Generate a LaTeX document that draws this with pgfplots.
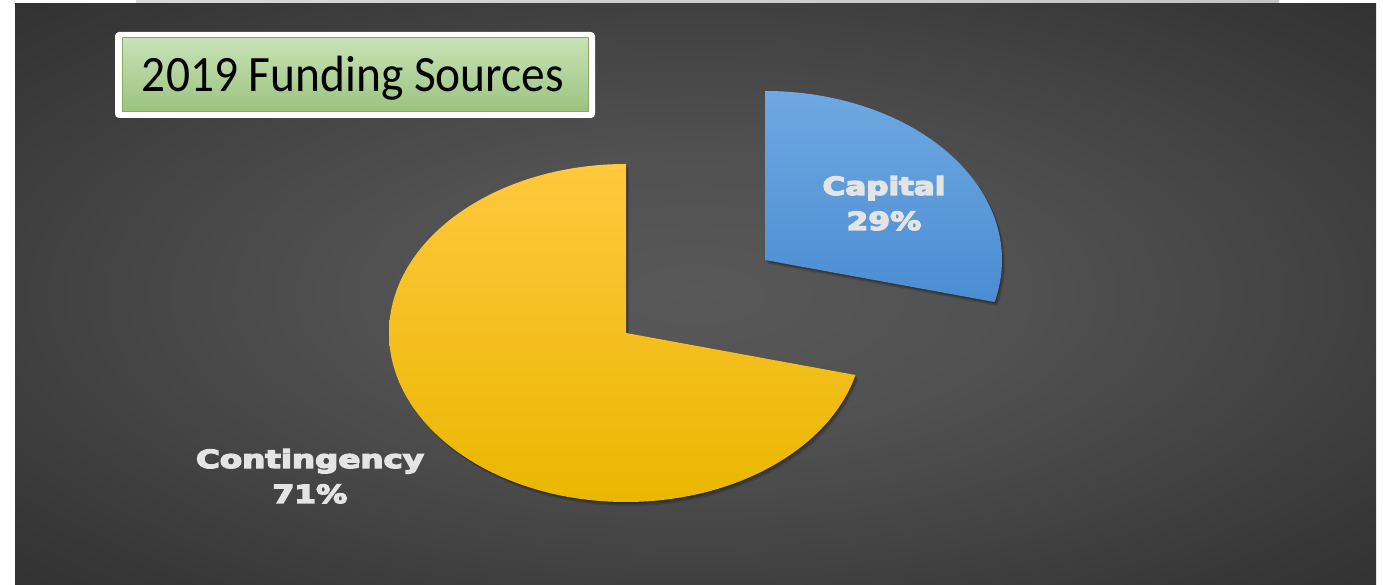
\documentclass[border=0pt]{standalone}
\usepackage{pgfplots}
\pgfplotsset{compat=1.18}
\usepackage{pgfplotstable}
\usepackage{fontspec}
\usepackage{graphicx}
\newfontfamily\titlefont{Carlito}
\newfontfamily\labelfont{DejaVu Sans}[BoldFeatures={FakeBold=5}]

\definecolor{bandL}{HTML}{D9D9D9}
\definecolor{bandR}{HTML}{C4C4C4}
\definecolor{bgA}{HTML}{585858}
\definecolor{bgB}{HTML}{515151}
\definecolor{bgC}{HTML}{444444}
\definecolor{bgD}{HTML}{363636}
\definecolor{bgE}{HTML}{2B2B2B}
\definecolor{bgF}{HTML}{242424}
\definecolor{goldTop}{HTML}{FFC83E}
\definecolor{goldBot}{HTML}{EAB700}
\definecolor{blueTop}{HTML}{6FA8E2}
\definecolor{blueBot}{HTML}{4A8DD3}
\definecolor{greenTop}{HTML}{C8E2B6}
\definecolor{greenBot}{HTML}{9BC37F}
\definecolor{greenEdge}{HTML}{82AC68}
\definecolor{labelgray}{HTML}{E4E4E4}

\pgfdeclareradialshading{slidebg}{\pgfpoint{0bp}{0bp}}{%
  color(0bp)=(bgA); color(12bp)=(bgB); color(22bp)=(bgC);
  color(32bp)=(bgD); color(42bp)=(bgE); color(75bp)=(bgF)}

% shares in percent
\pgfplotstableread{
source share
Capital 29
Contingency 71
}\fundingtable
\pgfplotstablegetelem{0}{share}\of\fundingtable
\let\capshare\pgfplotsretval
\pgfplotstablegetelem{1}{share}\of\fundingtable
\let\conshare\pgfplotsretval
\pgfmathsetmacro\capend{90-3.6*\capshare}
\pgfmathsetmacro\conend{90+3.6*\conshare}

% sector: centre, end angle
\newcommand\slicepath[2]{(axis cs:#1) -- ++(90:237pt and 169pt)
    arc[start angle=90, end angle=#2, x radius=237pt, y radius=169pt] -- cycle}
\newcommand\lbl[2]{{\labelfont\bfseries\fontsize{25}{30}\selectfont\scalebox{#1}[1]{#2}}}

\begin{document}
\begin{tikzpicture}
\begin{axis}[
    x=1pt, y=1pt,
    xmin=0, xmax=1385, ymin=0, ymax=585,
    hide axis,
    clip=false,
]
    % slide background
    \fill[white] (axis cs:0,0) rectangle (axis cs:1385,585);
    \shade[left color=bandL, right color=bandR]
        (axis cs:136,580) rectangle (axis cs:1279,585);
    \shade[shading=slidebg] (axis cs:15,0) rectangle (axis cs:1376,581);

    % title box
    \fill[white, rounded corners=4pt] (axis cs:115,467) rectangle (axis cs:595,553);
    \shade[top color=greenTop, bottom color=greenBot, draw=greenEdge, line width=1pt]
        (axis cs:122,473) rectangle (axis cs:588,547);
    \node[anchor=base, text=black] at (axis cs:353,493)
        {\titlefont\fontsize{51}{60}\selectfont\scalebox{0.93}[1]{2019 Funding Sources}};

    % soft shadows
    \fill[black, opacity=0.13, xshift=1pt, yshift=-1.5pt] \slicepath{626,252}{\conend};
    \fill[black, opacity=0.13, xshift=2pt, yshift=-2.5pt] \slicepath{626,252}{\conend};
    \fill[black, opacity=0.13, xshift=3pt, yshift=-4pt] \slicepath{626,252}{\conend};
    \fill[black, opacity=0.13, xshift=1pt, yshift=-1.5pt] \slicepath{765,325}{\capend};
    \fill[black, opacity=0.13, xshift=2pt, yshift=-2.5pt] \slicepath{765,325}{\capend};
    \fill[black, opacity=0.13, xshift=3pt, yshift=-4pt] \slicepath{765,325}{\capend};

    % Contingency
    \shade[top color=goldTop, bottom color=goldBot] \slicepath{626,252}{\conend};
    % Capital, pulled out along its mid angle
    \shade[top color=blueTop, bottom color=blueBot] \slicepath{765,325}{\capend};

    % data labels
    \node[anchor=base, text=labelgray] at (axis cs:884,390) {\lbl{1.24}{Capital}};
    \node[anchor=base, text=labelgray] at (axis cs:884,355) {\lbl{1.25}{\capshare\%}};
    \node[anchor=base, text=labelgray] at (axis cs:310,117) {\lbl{1.3}{Contingency}};
    \node[anchor=base, text=labelgray] at (axis cs:310,82) {\lbl{1.25}{\conshare\%}};
\end{axis}
\end{tikzpicture}
\end{document}
